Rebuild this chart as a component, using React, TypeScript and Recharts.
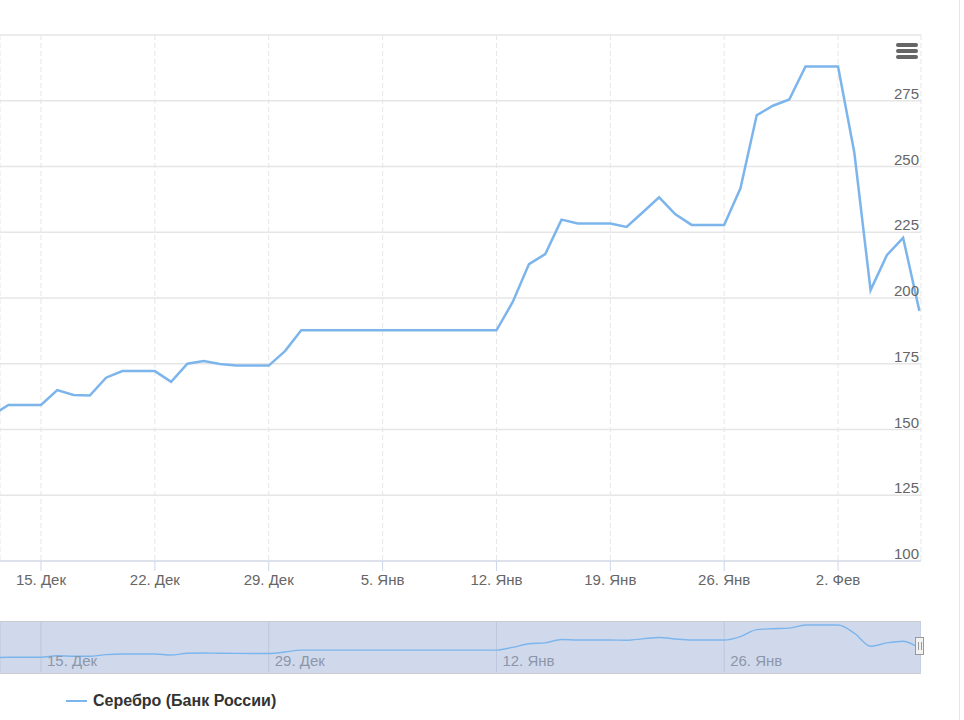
import { CartesianGrid, Line, LineChart, XAxis, YAxis } from 'recharts';

// Серебро (ЦБ РФ), дневные значения с 12 Дек по 7 Фев
const SERIES_NAME = 'Серебро (Банк России)';
const FIRST_DAY = -3; // 12. Дек относительно 15. Дек

const silverValues = [
  155.5, 159.3, 159.3, 159.3, 165.0, 163.1, 162.9, 169.7, 172.2, 172.2,
  172.2, 168.1, 175.0, 176.0, 174.9, 174.3, 174.3, 174.3, 179.8, 187.7,
  187.7, 187.7, 187.7, 187.7, 187.7, 187.7, 187.7, 187.7, 187.7, 187.7,
  187.7, 187.7, 198.5, 212.9, 216.7, 229.8, 228.3, 228.3, 228.3, 227.0,
  232.6, 238.3, 231.8, 227.8, 227.8, 227.8, 241.7, 269.5, 273.1, 275.5,
  288.0, 288.0, 288.0, 255.3, 203.0, 216.3, 222.9, 195.1,
];

const xTickDays = [0, 7, 14, 21, 28, 35, 42, 49];
const xTickLabels = ['15. Дек', '22. Дек', '29. Дек', '5. Янв', '12. Янв', '19. Янв', '26. Янв', '2. Фев'];
const navTickDays = [0, 14, 28, 42];
const navTickLabels = ['15. Дек', '29. Дек', '12. Янв', '26. Янв'];
const yTicks = [100, 125, 150, 175, 200, 225, 250, 275, 300];
const X_DOMAIN: [number, number] = [-2.52, 54.1];

const LINE_BLUE = '#7cb5ec';
const GRID = '#e6e6e6';
const AXIS = '#ccd6eb';
const LABEL = '#666666';
const FONT = '"Liberation Sans", Arial, sans-serif';

const data = silverValues.map((value, i) => ({ day: FIRST_DAY + i, value }));

function XTick({ x, y, payload }: any) {
  const idx = xTickDays.indexOf(payload.value);
  return (
    <text x={x} y={y + 12} textAnchor="middle" fill={LABEL} fontSize={15} fontFamily={FONT}>
      {idx >= 0 ? xTickLabels[idx] : ''}
    </text>
  );
}

function YTick({ y, payload }: any) {
  if (payload.value === 300) return <g />;
  return (
    <text x={919} y={y - 2} textAnchor="end" fill={LABEL} fontSize={15} fontFamily={FONT}>
      {payload.value}
    </text>
  );
}

function NavTick({ x, y, payload }: any) {
  const idx = navTickDays.indexOf(payload.value);
  return (
    <text x={x + 6} y={y - 6} textAnchor="start" fill="#8d96a8" fontSize={15} fontFamily={FONT}>
      {idx >= 0 ? navTickLabels[idx] : ''}
    </text>
  );
}

export default function App() {
  return (
    <div style={{ position: 'absolute', left: 0, top: 0, width: 964, height: 720, background: '#fff', fontFamily: FONT }}>
      <LineChart width={964} height={600} data={data} margin={{ top: 35, right: 0, left: 0, bottom: 0 }}>
        <CartesianGrid vertical={false} stroke={GRID} strokeWidth={1.4} />
        <CartesianGrid horizontal={false} stroke={GRID} strokeDasharray="5 3" />
        <XAxis
          dataKey="day"
          type="number"
          domain={X_DOMAIN}
          allowDataOverflow
          ticks={xTickDays}
          height={39}
          stroke={AXIS}
          tickSize={10}
          tickMargin={2}
          tick={<XTick />}
        />
        <YAxis
          orientation="right"
          width={43}
          domain={[100, 300]}
          ticks={yTicks}
          axisLine={false}
          tickLine={false}
          tick={<YTick />}
        />
        <Line
          type="linear"
          dataKey="value"
          name={SERIES_NAME}
          stroke={LINE_BLUE}
          strokeWidth={2.5}
          dot={false}
          activeDot={false}
          isAnimationActive={false}
        />
      </LineChart>

      {/* menu icon */}
      <div style={{ position: 'absolute', left: 896, top: 43 }}>
        {[0, 6, 12].map((o) => (
          <div key={o} style={{ position: 'absolute', left: 0, top: o, width: 22, height: 3.5, borderRadius: 2, background: '#666' }} />
        ))}
      </div>

      {/* navigator */}
      <div
        style={{
          position: 'absolute', left: 0, top: 621, width: 921, height: 51,
          background: '#d0d9ec', borderTop: '1px solid #cccccc', borderBottom: '1px solid #cccccc',
        }}
      />
      <div style={{ position: 'absolute', left: 0, top: 622 }}>
        <LineChart width={921} height={70} data={data} margin={{ top: 0, right: 0, left: 0, bottom: 0 }}>
          <CartesianGrid horizontal={false} stroke="#bcc6dc" />
          <XAxis
            dataKey="day"
            type="number"
            domain={X_DOMAIN}
            allowDataOverflow
            ticks={navTickDays}
            height={20}
            axisLine={false}
            tickLine={false}
            tickSize={0}
            tickMargin={0}
            tick={<NavTick />}
          />
          <YAxis hide domain={[100, 300]} allowDataOverflow />
          <Line
            type="monotone"
            dataKey="value"
            stroke={LINE_BLUE}
            strokeWidth={1.4}
            dot={false}
            activeDot={false}
            isAnimationActive={false}
          />
        </LineChart>
      </div>
      <div
        style={{
          position: 'absolute', left: 915, top: 637, width: 9, height: 18,
          background: '#f2f2f2', border: '1px solid #999', boxSizing: 'border-box',
        }}
      >
        <div style={{ position: 'absolute', left: 2, top: 4, width: 1, height: 8, background: '#999' }} />
        <div style={{ position: 'absolute', left: 5, top: 4, width: 1, height: 8, background: '#999' }} />
      </div>

      {/* legend */}
      <div style={{ position: 'absolute', left: 66, top: 692, display: 'flex', alignItems: 'center' }}>
        <div style={{ width: 21, height: 2.5, background: LINE_BLUE, marginRight: 6 }} />
        <span style={{ fontSize: 16, fontWeight: 'bold', color: '#333' }}>{SERIES_NAME}</span>
      </div>

      {/* right border */}
      <div style={{ position: 'absolute', left: 959, top: 0, width: 1, height: 720, background: '#e6e6e6' }} />
    </div>
  );
}
